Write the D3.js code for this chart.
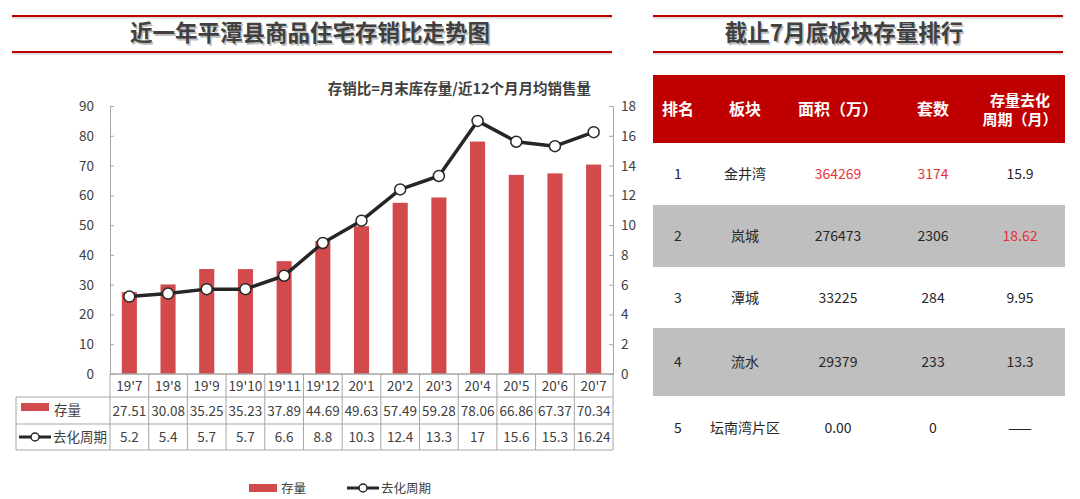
<!DOCTYPE html>
<html>
<head>
<meta charset="utf-8">
<script src="https://cdn.jsdelivr.net/npm/d3@7"></script>
<style>
  body { margin: 0; background: #fff; }
  svg { display: block; font-family: "Noto Sans CJK SC", "Noto Sans", sans-serif; }
</style>
</head>
<body>
<svg id="chart" width="1080" height="499"></svg>
<script>
// Chart data
const months = ["19'7", "19'8", "19'9", "19'10", "19'11", "19'12", "20'1", "20'2", "20'3", "20'4", "20'5", "20'6", "20'7"];
const stock = [27.51, 30.08, 35.25, 35.23, 37.89, 44.69, 49.63, 57.49, 59.28, 78.06, 66.86, 67.37, 70.34];
const cycle = [5.2, 5.4, 5.7, 5.7, 6.6, 8.8, 10.3, 12.4, 13.3, 17, 15.6, 15.3, 16.24];
const leftTicks = [0, 10, 20, 30, 40, 50, 60, 70, 80, 90];
const rightTicks = [0, 2, 4, 6, 8, 10, 12, 14, 16, 18];

// Ranking table data
const headers = ["排名", "板块", "面积（万）", "套数", "存量去化\n周期（月）"];
const ranks = ["1", "2", "3", "4", "5"];
const blocks = ["金井湾", "岚城", "潭城", "流水", "坛南湾片区"];
const areas = ["364269", "276473", "33225", "29379", "0.00"];
const units = ["3174", "2306", "284", "233", "0"];
const cycles = ["15.9", "18.62", "9.95", "13.3", "——"];
const redCells = [[0, 2], [0, 3], [1, 4]];

const svg = d3.select('#chart');
const RED = '#c00000';
const BAR = '#d24a4b';
const DARK = '#262626';
const TXT = '#404040';

// Title block with red rules
function titleBlock(x0, x1, text, cx) {
    [16, 52].forEach(y => {
        svg.append('line').attr('x1', x0).attr('x2', x1).attr('y1', y + 1.5).attr('y2', y + 1.5)
            .attr('stroke', '#d9d9d9').attr('stroke-width', 2);
        svg.append('line').attr('x1', x0).attr('x2', x1).attr('y1', y).attr('y2', y)
            .attr('stroke', RED).attr('stroke-width', 2);
    });
    svg.append('text').attr('x', cx + 1.5).attr('y', 42.5)
        .attr('text-anchor', 'middle').style('font-size', '22.5px').style('font-weight', 700)
        .attr('fill', '#bfbfbf').text(text);
    svg.append('text').attr('x', cx).attr('y', 41)
        .attr('text-anchor', 'middle').style('font-size', '22.5px').style('font-weight', 700)
        .attr('fill', TXT).text(text);
}
titleBlock(12, 612, '近一年平潭县商品住宅存销比走势图', 310);
titleBlock(653, 1063, '截止7月底板块存量排行', 844);

// Combo chart
const plotL = 110, plotR = 613, plotT = 106, plotB = 374;
const x = d3.scaleBand().domain(months).range([plotL, plotR]);
const yL = d3.scaleLinear().domain([0, 90]).range([plotB, plotT]);
const yR = d3.scaleLinear().domain([0, 18]).range([plotB, plotT]);

svg.append('text').attr('x', 591).attr('y', 94).attr('text-anchor', 'end')
    .style('font-size', '14.5px').style('font-weight', 700).attr('fill', TXT)
    .text('存销比=月末库存量/近12个月月均销售量');

const axL = svg.append('g').attr('transform', `translate(${plotL},0)`)
    .call(d3.axisRight(yL).tickValues(leftTicks).tickSize(4).tickFormat(d3.format('d')));
axL.selectAll('text').remove();
leftTicks.forEach(t => {
    svg.append('text').attr('x', 94).attr('y', yL(t) + 5).attr('text-anchor', 'end')
        .style('font-size', '13.5px').attr('fill', TXT).text(t);
});
const axR = svg.append('g').attr('transform', `translate(${plotR},0)`)
    .call(d3.axisLeft(yR).tickValues(rightTicks).tickSize(4));
axR.selectAll('text').remove();
rightTicks.forEach(t => {
    svg.append('text').attr('x', 621).attr('y', yR(t) + 5).attr('text-anchor', 'start')
        .style('font-size', '13.5px').attr('fill', TXT).text(t);
});
[axL, axR].forEach(a => {
    a.selectAll('path, line').attr('stroke', '#a6a6a6');
});

const bw = x.bandwidth() * 0.39;
svg.append('g').selectAll('rect').data(months).join('rect')
    .attr('x', d => x(d) + (x.bandwidth() - bw) / 2)
    .attr('y', (d, i) => yL(stock[i]))
    .attr('width', bw)
    .attr('height', (d, i) => plotB - yL(stock[i]))
    .attr('fill', BAR);

svg.append('line').attr('x1', plotL).attr('x2', plotR).attr('y1', plotB).attr('y2', plotB)
    .attr('stroke', '#a6a6a6');

const line = d3.line()
    .x((d, i) => x(months[i]) + x.bandwidth() / 2)
    .y(d => yR(d));
svg.append('path').datum(cycle).attr('d', line)
    .attr('fill', 'none').attr('stroke', DARK).attr('stroke-width', 3.5)
    .attr('stroke-linejoin', 'round');
svg.append('g').selectAll('circle').data(cycle).join('circle')
    .attr('cx', (d, i) => x(months[i]) + x.bandwidth() / 2)
    .attr('cy', d => yR(d))
    .attr('r', 5.5)
    .attr('fill', '#fff').attr('stroke', DARK).attr('stroke-width', 1.5);

// Data table under the chart
const rowY = [374, 397, 424, 450];
const tableLeft = 16;
const grid = svg.append('g').attr('stroke', '#a6a6a6').attr('stroke-width', 1);
grid.append('line').attr('x1', plotL).attr('x2', plotR).attr('y1', rowY[0]).attr('y2', rowY[0]);
[1, 2, 3].forEach(r => {
    grid.append('line').attr('x1', tableLeft).attr('x2', plotR).attr('y1', rowY[r]).attr('y2', rowY[r]);
});
grid.append('line').attr('x1', tableLeft).attr('x2', tableLeft).attr('y1', rowY[1]).attr('y2', rowY[3]);
months.forEach(m => {
    grid.append('line').attr('x1', x(m)).attr('x2', x(m)).attr('y1', rowY[0]).attr('y2', rowY[3]);
});
grid.append('line').attr('x1', plotR).attr('x2', plotR).attr('y1', rowY[0]).attr('y2', rowY[3]);

const cellText = (vals, r) => {
    svg.append('g').selectAll('text').data(vals).join('text')
        .attr('x', (d, i) => x(months[i]) + x.bandwidth() / 2)
        .attr('y', (rowY[r] + rowY[r + 1]) / 2 + 5)
        .attr('text-anchor', 'middle')
        .style('font-size', '13.5px').attr('fill', TXT)
        .text(d => d);
};
cellText(months, 0);
cellText(stock.map(d => d.toFixed(2)), 1);
cellText(cycle, 2);

// Row legends inside the table
function barKey(g, x0, y0) {
    g.append('rect').attr('x', x0).attr('y', y0 - 4).attr('width', 28).attr('height', 8).attr('fill', BAR);
}
function lineKey(g, x0, y0) {
    g.append('line').attr('x1', x0).attr('x2', x0 + 32).attr('y1', y0).attr('y2', y0)
        .attr('stroke', DARK).attr('stroke-width', 3);
    g.append('circle').attr('cx', x0 + 16).attr('cy', y0).attr('r', 4)
        .attr('fill', '#fff').attr('stroke', DARK).attr('stroke-width', 1.5);
}
const keys = svg.append('g');
barKey(keys, 21, 407);
keys.append('text').attr('x', 54).attr('y', 415).style('font-size', '13.5px').attr('fill', TXT).text('存量');
lineKey(keys, 19, 437);
keys.append('text').attr('x', 53).attr('y', 442).style('font-size', '13.5px').attr('fill', TXT).text('去化周期');

// Bottom legend
barKey(keys, 249, 488);
keys.append('text').attr('x', 281).attr('y', 493).style('font-size', '12.5px').attr('fill', TXT).text('存量');
lineKey(keys, 347, 488);
keys.append('text').attr('x', 381).attr('y', 493).style('font-size', '12.5px').attr('fill', TXT).text('去化周期');

// Ranking table
const colX = [678, 745, 838, 933, 1020];
const tL = 653, tR = 1065;
const tRows = [75, 143, 205, 267, 328, 396, 460];
svg.append('rect').attr('x', tL).attr('y', tRows[0]).attr('width', tR - tL).attr('height', tRows[1] - tRows[0])
    .attr('fill', RED);
headers.forEach((h, i) => {
    const parts = h.split('\n');
    const cy = (tRows[0] + tRows[1]) / 2;
    parts.forEach((p, k) => {
        svg.append('text').attr('x', colX[i]).attr('y', cy + 6 + (k - (parts.length - 1) / 2) * 19)
            .attr('text-anchor', 'middle').style('font-size', parts.length > 1 ? '15px' : '16px')
            .style('font-weight', 700).attr('fill', '#fff').text(p);
    });
});
const rows = ranks.map((r, i) => [r, blocks[i], areas[i], units[i], cycles[i]]);
rows.forEach((row, r) => {
    if (r % 2 === 1) {
        svg.append('rect').attr('x', tL).attr('y', tRows[r + 1]).attr('width', tR - tL)
            .attr('height', tRows[r + 2] - tRows[r + 1]).attr('fill', '#bfbfbf');
    }
    row.forEach((v, c) => {
        const isRed = redCells.some(rc => rc[0] === r && rc[1] === c);
        svg.append('text').attr('x', colX[c]).attr('y', (tRows[r + 1] + tRows[r + 2]) / 2 + 5)
            .attr('text-anchor', 'middle').style('font-size', '14px')
            .attr('fill', isRed ? '#e8303a' : '#262626').text(v);
    });
});
</script>
</body>
</html>
